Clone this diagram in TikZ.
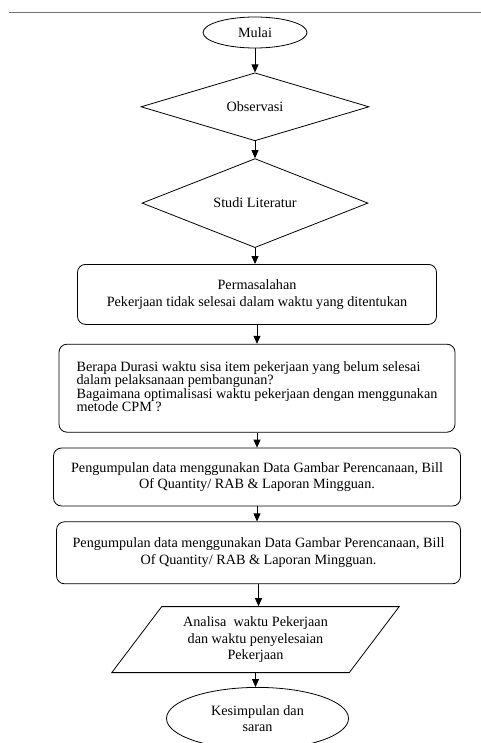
\documentclass[tikz,border=0pt]{standalone}
\usepackage{fontspec}
\setmainfont{Liberation Serif}
\usepackage{tikz}
\usetikzlibrary{shapes.geometric,arrows.meta,positioning}
\newcommand{\tightlines}{\fontsize{14.2}{13.4}\selectfont\lineskiplimit=-10pt\relax}

\begin{document}
\begin{tikzpicture}[
    font=\fontsize{14.2}{16.5}\selectfont,
    term/.style={ellipse, draw, line width=0.8pt, inner sep=0pt, align=center},
    decision/.style={diamond, draw, line width=0.8pt, aspect=3, inner sep=0pt},
    process/.style={rectangle, draw, line width=0.8pt, rounded corners=8pt, inner sep=0pt, align=center},
    iobox/.style={trapezium, draw, line width=0.8pt, trapezium left angle=50, trapezium right angle=130, trapezium stretches=true, inner sep=0pt, align=center},
    arrow/.style={-{Triangle[length=8pt,width=7pt]}, line width=0.8pt},
]
    \useasboundingbox (0,0) rectangle (481pt,-743pt);
    \draw[line width=1.5pt, black!55] (9pt,-12.5pt) -- (481pt,-12.5pt);

    \node[term, minimum width=104pt, minimum height=31pt] (mulai) at (255pt,-32.5pt) {Mulai};
    \node[decision, minimum width=228pt, minimum height=68pt, below=24pt of mulai] (obs) {Observasi};
    \node[decision, minimum width=226pt, minimum height=89pt, below=17pt of obs] (studi) {Studi Literatur};
    \node[process, minimum width=359pt, minimum height=60pt, below=16pt of studi, xshift=2pt] (masalah) {Permasalahan\\Pekerjaan tidak selesai dalam waktu yang ditentukan};
    \node[process, minimum width=396pt, minimum height=88pt, align=left, below=19pt of masalah,
          font=\tightlines] (rumusan) {Berapa Durasi waktu sisa item pekerjaan yang belum selesai\\dalam pelaksanaan pembangunan?\\Bagaimana optimalisasi waktu pekerjaan dengan menggunakan\\metode CPM ?\vphantom{p}};
    \node[process, minimum width=407pt, minimum height=58pt, below=15pt of rumusan] (data1) {Pengumpulan data menggunakan Data Gambar Perencanaan, Bill\\Of Quantity/ RAB \& Laporan Mingguan.};
    \node[process, minimum width=404pt, minimum height=62pt, below=15pt of data1, xshift=1.5pt] (data2) {Pengumpulan data menggunakan Data Gambar Perencanaan, Bill\\Of Quantity/ RAB \& Laporan Mingguan.};
    \node[iobox, minimum width=288pt, minimum height=66pt, below=22pt of data2, xshift=-3pt] (analisa) {Analisa~ waktu Pekerjaan\\dan waktu penyelesaian\\Pekerjaan};
    \node[term, minimum width=182pt, minimum height=62pt, below=14pt of analisa, xshift=2pt,
          font=\fontsize{14.2}{16}\selectfont] (simpul) {Kesimpulan dan\\saran};

    \draw[arrow] (mulai.south) -- (obs.north);
    \draw[arrow] (obs.south) -- (studi.north);
    \draw[arrow] (studi.south) -- (studi.south |- masalah.north);
    \draw[arrow] (masalah.south) -- (masalah.south |- rumusan.north);
    \draw[arrow] (rumusan.south) -- (rumusan.south |- data1.north);
    \draw[arrow] (data1.south) -- (data1.south |- data2.north);
    \draw[arrow] (data2.south) -- (data2.south |- analisa.north);
    \draw[arrow] (analisa.south) -- (analisa.south |- simpul.north);
\end{tikzpicture}
\end{document}
